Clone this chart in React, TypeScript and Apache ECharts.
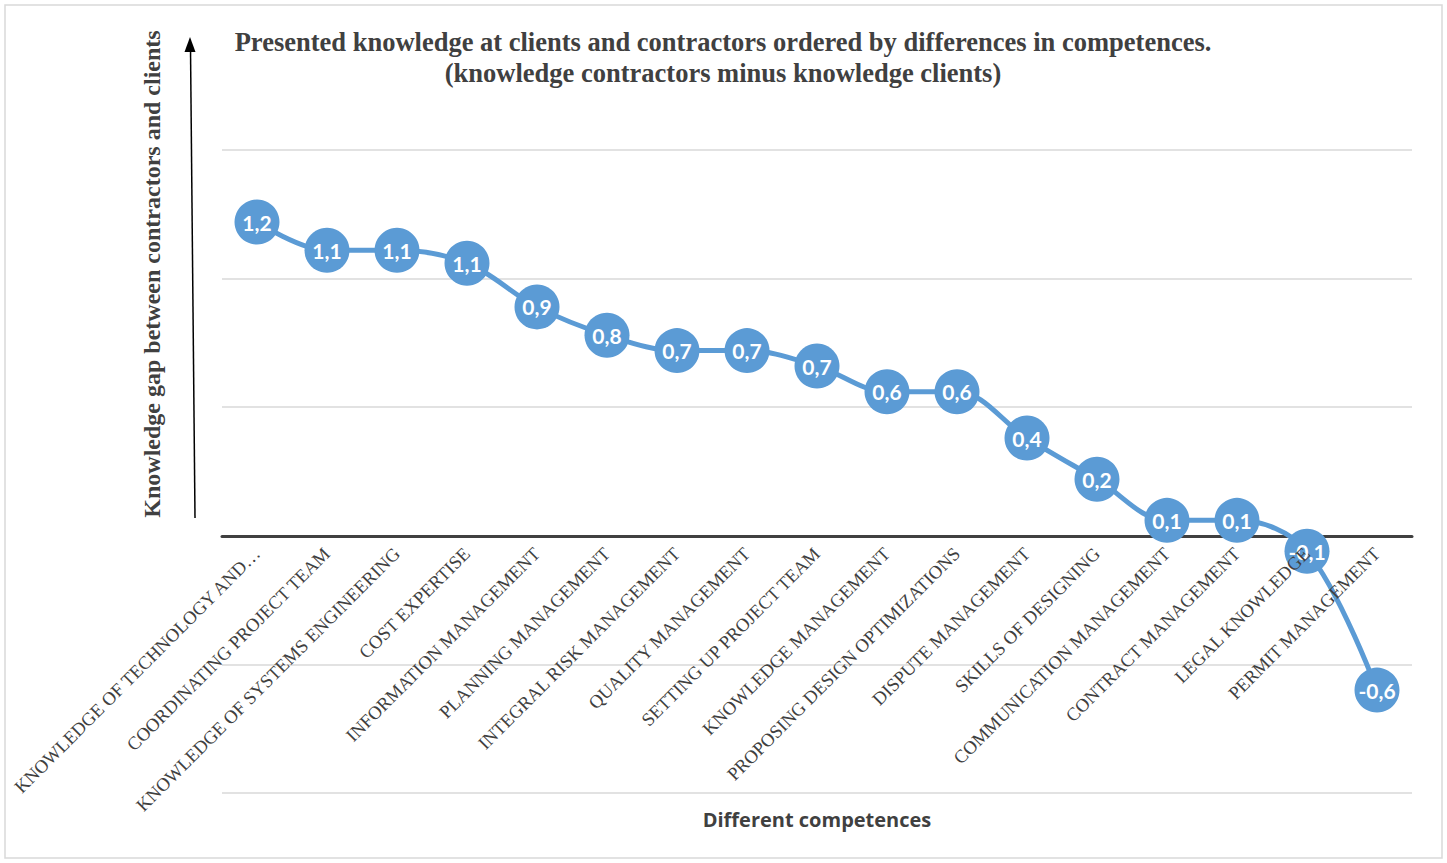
import React, { useEffect, useRef } from "react";
import * as echarts from "echarts";

const categories: string[] = [
  "KNOWLEDGE OF TECHNOLOGY AND…",
  "COORDINATING PROJECT TEAM",
  "KNOWLEDGE OF SYSTEMS ENGINEERING",
  "COST EXPERTISE",
  "INFORMATION MANAGEMENT",
  "PLANNING MANAGEMENT",
  "INTEGRAL RISK MANAGEMENT",
  "QUALITY MANAGEMENT",
  "SETTING UP PROJECT TEAM",
  "KNOWLEDGE MANAGEMENT",
  "PROPOSING DESIGN OPTIMIZATIONS",
  "DISPUTE MANAGEMENT",
  "SKILLS OF DESIGNING",
  "COMMUNICATION MANAGEMENT",
  "CONTRACT MANAGEMENT",
  "LEGAL KNOWLEDGE",
  "PERMIT MANAGEMENT",
];

const knowledgeGap: number[] = [
  1.22, 1.11, 1.11, 1.06, 0.89, 0.78, 0.72, 0.72, 0.66, 0.56, 0.56, 0.38, 0.22, 0.06, 0.06, -0.06, -0.6,
];

const yMin = -1;
const yMax = 1.5;
const yStep = 0.5;

const titleLines: string[] = [
  "Presented knowledge at clients and contractors ordered by differences in competences.",
  "(knowledge contractors minus knowledge clients)",
];
const yTitle = "Knowledge gap between contractors and clients";
const xTitle = "Different competences";

const fmt = (v: number) => (Math.round(v * 10) / 10).toFixed(1).replace(".", ",");

const GRID_TOP = 150;
const GRID_BOTTOM = 70;
const CHART_H = 863;

export default function App() {
  const ref = useRef<HTMLDivElement>(null);
  useEffect(() => {
    if (!ref.current) return;
    const chart = echarts.init(ref.current, undefined, { renderer: "svg" });
    const plotH = CHART_H - GRID_TOP - GRID_BOTTOM;
    const zeroOffset = -((0 - yMin) / (yMax - yMin)) * plotH;
    chart.setOption({
      animation: false,
      backgroundColor: "#ffffff",
      grid: {
        left: 222,
        right: 35,
        top: GRID_TOP,
        bottom: GRID_BOTTOM,
        containLabel: false,
        outerBoundsMode: "none",
      },
      xAxis: [
        {
          type: "category",
          data: categories,
          boundaryGap: true,
          offset: zeroOffset,
          axisLine: { show: false, onZero: false },
          axisTick: { show: false },
          axisLabel: {
            rotate: 45,
            interval: 0,
            margin: 15,
            fontFamily: "Liberation Serif",
            fontSize: 18.5,
            color: "#404040",
            hideOverlap: false,
          },
          z: 8,
        },
        {
          type: "category",
          data: categories,
          boundaryGap: true,
          position: "bottom",
          offset: zeroOffset,
          axisLine: { onZero: false, lineStyle: { color: "#404040", width: 3 } },
          axisTick: { show: false },
          axisLabel: { show: false },
          splitLine: { show: false },
          z: 3,
        },
      ],
      yAxis: {
        type: "value",
        min: yMin,
        max: yMax,
        interval: yStep,
        axisLabel: { show: false },
        axisLine: { show: false },
        axisTick: { show: false },
        splitLine: { lineStyle: { color: "#d9d9d9", width: 1.5 } },
      },
      series: [
        {
          type: "line",
          xAxisIndex: 0,
          data: knowledgeGap,
          smooth: 0.35,
          z: 5,
          lineStyle: { color: "#5b9bd5", width: 5 },
          itemStyle: { color: "#5b9bd5" },
          symbol: "circle",
          symbolSize: 45,
          label: {
            show: true,
            position: "inside",
            color: "#ffffff",
            fontFamily: "Lato",
            fontWeight: "bold",
            fontSize: 21,
            formatter: (p: any) => fmt(p.value),
          },
        },
      ],
      graphic: [
        {
          type: "rect",
          shape: { x: 5, y: 5, width: 1437, height: 853 },
          style: { fill: "none", stroke: "#d9d9d9", lineWidth: 1.5 },
          silent: true,
        },
        {
          type: "text",
          x: 723,
          y: 42,
          style: {
            text: titleLines[0],
            fontFamily: "Liberation Serif",
            fontWeight: "bold",
            fontSize: 26.5,
            fill: "#404040",
            align: "center",
            verticalAlign: "middle",
          },
        },
        {
          type: "text",
          x: 723,
          y: 73,
          style: {
            text: titleLines[1],
            fontFamily: "Liberation Serif",
            fontWeight: "bold",
            fontSize: 26.5,
            fill: "#404040",
            align: "center",
            verticalAlign: "middle",
          },
        },
        {
          type: "text",
          x: 152,
          y: 274,
          rotation: Math.PI / 2,
          style: {
            text: yTitle,
            fontFamily: "Liberation Serif",
            fontWeight: "bold",
            fontSize: 24,
            fill: "#404040",
            align: "center",
            verticalAlign: "middle",
          },
        },
        {
          type: "line",
          shape: { x1: 195, y1: 518, x2: 190.5, y2: 48 },
          style: { stroke: "#000000", lineWidth: 1.5 },
        },
        {
          type: "polygon",
          shape: { points: [[190, 37], [184.5, 52], [195.5, 52]] },
          style: { fill: "#000000" },
        },
        {
          type: "text",
          x: 817,
          y: 819,
          style: {
            text: xTitle,
            fontFamily: "Open Sans",
            fontWeight: "bold",
            fontSize: 20,
            fill: "#404040",
            align: "center",
            verticalAlign: "middle",
          },
        },
      ],
    });
    return () => chart.dispose();
  }, []);
  return (
    <div
      ref={ref}
      style={{ position: "absolute", left: 0, top: 0, width: 1447, height: 863 }}
    />
  );
}
